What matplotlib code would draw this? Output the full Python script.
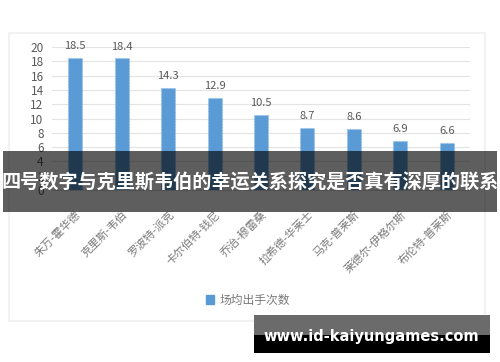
import matplotlib.pyplot as plt
from matplotlib.patches import Rectangle

plt.rcParams['font.family'] = ['Noto Sans CJK SC', 'DejaVu Sans']

players = ['朱万-霍华德', '克里斯-韦伯', '罗波特-派克', '卡尔伯特-钱尼', '乔治-穆雷桑',
           '拉希德-华莱士', '马克-普莱斯', '莱德尔-伊格尔斯', '布伦特-普莱斯']
shots = [18.5, 18.4, 14.3, 12.9, 10.5, 8.7, 8.6, 6.9, 6.6]
yticks = list(range(0, 21, 2))
series_name = '场均出手次数'
title = '四号数字与克里斯韦伯的幸运关系探究是否真有深厚的联系'
watermark = 'www.id-kaiyungames.com'

W, H = 500, 362
fig = plt.figure(figsize=(W / 100, H / 100), dpi=100)
fig.patch.set_facecolor('white')

def fx(px):
    return px / W

def fy(py):
    return 1 - py / H

# faint card outline
fig.add_artist(Rectangle((fx(9), fy(321)), fx(485) - fx(9), fy(33) - fy(321),
                         transform=fig.transFigure, fill=False,
                         edgecolor='#f2f2f2', lw=1.5))

ax = fig.add_axes([fx(52), fy(190), fx(470) - fx(52), fy(47) - fy(190)])
x = range(len(players))
ax.bar(x, shots, width=0.3, color='#5b9bd5', edgecolor='#8fbde6',
       linewidth=0.8, linestyle=':', zorder=3)
for xi, v in zip(x, shots):
    ax.text(xi, v + 0.9, f'{v}', ha='center', va='bottom', fontsize=8,
            color='#595959')

ax.set_xlim(-0.5, len(players) - 0.5)
ax.set_ylim(0, 20)
ax.set_yticks(yticks)
ax.set_yticklabels([str(t) for t in yticks], fontsize=8.5, color='#595959')
ax.set_xticks(list(x))
ax.set_xticklabels(players, rotation=45, ha='right', rotation_mode='anchor',
                   fontsize=8, color='#7a7a7a')
ax.tick_params(axis='both', length=0)
ax.tick_params(axis='x', pad=14)
ax.tick_params(axis='y', pad=6)
ax.grid(axis='y', color='#e3e3e3', lw=0.8, zorder=0)
for s in ['top', 'right', 'left']:
    ax.spines[s].set_visible(False)
ax.spines['bottom'].set_color('#d9d9d9')

# legend
leg = fig.legend(handles=[Rectangle((0, 0), 1, 1, color='#5b9bd5')],
                 labels=[series_name], loc='center',
                 bbox_to_anchor=(fx(248), fy(300)), frameon=False,
                 fontsize=8.5, handlelength=0.7, handleheight=0.7,
                 handletextpad=0.5)
for t in leg.get_texts():
    t.set_color('#7a7a7a')

# title band overlay
fig.add_artist(Rectangle((fx(3), fy(212)), fx(497) - fx(3), fy(151) - fy(212),
                         transform=fig.transFigure, facecolor='black',
                         lw=0, alpha=0.63, zorder=10))
fig.text(fx(250), fy(183), title, ha='center', va='center', fontsize=13.8,
         fontweight='bold', color='white', zorder=11)

# watermark box
fig.add_artist(Rectangle((fx(254), fy(335)), fx(490) - fx(254), fy(315) - fy(335),
                         transform=fig.transFigure, facecolor='#6b6b6b',
                         lw=0, zorder=10))
fig.add_artist(Rectangle((fx(254), fy(353)), fx(490) - fx(254), fy(335) - fy(353),
                         transform=fig.transFigure, facecolor='black',
                         lw=0, zorder=10))
fig.text(fx(371), fy(337), watermark, ha='center', va='center', fontsize=10.5,
         fontweight='bold', color='white', family='DejaVu Sans', zorder=11)

fig.savefig('out.png', dpi=100)
